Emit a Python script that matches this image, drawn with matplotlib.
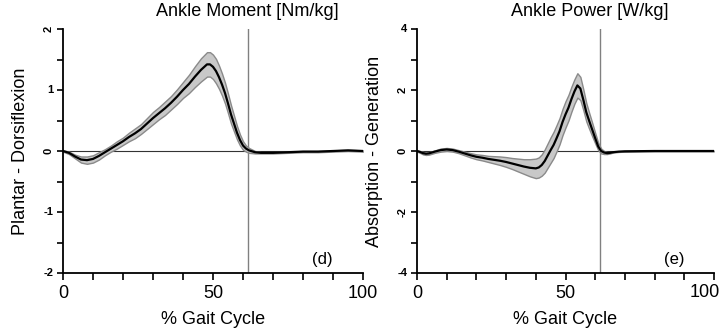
import numpy as np
import matplotlib
matplotlib.use('Agg')
import matplotlib.pyplot as plt
from matplotlib.ticker import MultipleLocator

plt.rcParams['font.family'] = ['Liberation Sans', 'DejaVu Sans']

# gait cycle points (%)
moment_x = [0, 2, 4, 6, 8, 10, 12, 14, 16, 18, 20, 22, 24, 26, 28, 30, 32, 34, 36, 38,
            40, 42, 44, 46, 48, 49, 50, 51, 52, 53, 54, 55, 56, 57, 58, 59, 60, 61, 62,
            64, 66, 70, 75, 80, 85, 90, 95, 100]
moment_mean = [0.0, -0.03, -0.09, -0.14, -0.15, -0.13, -0.08, -0.02, 0.04, 0.10, 0.16, 0.23,
               0.29, 0.36, 0.45, 0.54, 0.62, 0.70, 0.79, 0.89, 1.00, 1.10, 1.22, 1.33, 1.42,
               1.42, 1.38, 1.31, 1.21, 1.09, 0.95, 0.78, 0.60, 0.45, 0.30, 0.18, 0.09, 0.04,
               0.01, -0.02, -0.03, -0.03, -0.02, -0.01, -0.01, 0.0, 0.01, 0.0]
moment_sd = [0.01, 0.02, 0.03, 0.05, 0.06, 0.06, 0.06, 0.05, 0.05, 0.06, 0.06, 0.07, 0.08,
             0.08, 0.09, 0.10, 0.10, 0.11, 0.11, 0.12, 0.13, 0.15, 0.17, 0.19, 0.20, 0.20,
             0.20, 0.20, 0.19, 0.18, 0.17, 0.16, 0.15, 0.13, 0.11, 0.09, 0.07, 0.05, 0.04,
             0.02, 0.01, 0.01, 0.01, 0.01, 0.01, 0.01, 0.01, 0.01]

power_x = [0, 1, 2, 3, 4, 5, 6, 8, 10, 12, 14, 16, 18, 20, 22, 24, 26, 28, 30, 32, 34, 36,
           38, 40, 41, 42, 43, 44, 45, 46, 47, 48, 49, 50, 51, 52, 53, 54, 55, 56, 57, 58,
           59, 60, 61, 62, 63, 64, 65, 66, 68, 70, 80, 90, 100]
power_mean = [0.0, -0.03, -0.07, -0.09, -0.08, -0.05, -0.02, 0.03, 0.05, 0.03, -0.02, -0.08,
              -0.14, -0.19, -0.22, -0.26, -0.29, -0.32, -0.36, -0.41, -0.46, -0.51, -0.55,
              -0.57, -0.54, -0.46, -0.33, -0.15, 0.03, 0.20, 0.42, 0.65, 0.95, 1.20, 1.42,
              1.70, 1.95, 2.15, 2.05, 1.68, 1.27, 0.98, 0.70, 0.42, 0.15, 0.0, -0.05, -0.07,
              -0.06, -0.04, -0.02, -0.01, 0.0, 0.0, 0.0]
power_sd = [0.02, 0.03, 0.04, 0.04, 0.04, 0.04, 0.04, 0.05, 0.05, 0.05, 0.05, 0.06, 0.07,
            0.08, 0.09, 0.10, 0.12, 0.14, 0.16, 0.18, 0.21, 0.24, 0.28, 0.32, 0.33, 0.35,
            0.38, 0.40, 0.42, 0.43, 0.43, 0.43, 0.43, 0.43, 0.42, 0.41, 0.40, 0.40, 0.38,
            0.34, 0.30, 0.26, 0.22, 0.17, 0.12, 0.08, 0.05, 0.03, 0.02, 0.01, 0.01, 0.01,
            0.01, 0.01, 0.01]

xtick_labels = ['0', '50', '100']
toe_off = 61.5

fig = plt.figure(figsize=(7.23, 3.36), dpi=100)
ax1 = fig.add_axes([63 / 723, 63 / 336, 300 / 723, 244 / 336])
ax2 = fig.add_axes([417 / 723, 63 / 336, 297 / 723, 244 / 336])


def draw_panel(ax, x, mean, sd, ylim, ystep, ylabels, rot, title, title_x, ylabel, tag):
    x = np.array(x)
    mean = np.array(mean)
    sd = np.array(sd)
    ax.fill_between(x, mean - sd, mean + sd, facecolor='#c8c8c8', edgecolor='#8a8a8a',
                    linewidth=1.0, zorder=2)
    ax.plot(x, mean, color='black', linewidth=1.6, zorder=3)
    ax.axhline(0, color='#333333', linewidth=0.8, zorder=1)
    ax.axvline(toe_off, color='#808080', linewidth=1.0, zorder=1)

    ax.set_xlim(0, 100)
    ax.set_ylim(ylim)
    for s in ['top', 'right']:
        ax.spines[s].set_visible(False)
    for s in ['left', 'bottom']:
        ax.spines[s].set_linewidth(1.3)

    ax.set_xticks([0, 50, 100])
    ax.set_xticklabels(xtick_labels)
    ax.xaxis.set_minor_locator(MultipleLocator(10))
    ax.tick_params(axis='x', which='both', direction='out', length=5, width=1.2)
    ax.tick_params(axis='x', which='major', labelsize=13, pad=4)

    ax.yaxis.set_minor_locator(MultipleLocator(ystep))
    ax.tick_params(axis='y', which='both', direction='out', length=4, width=1.2)
    ax.tick_params(axis='y', which='major', labelsize=8, pad=3)
    ax.set_yticks(np.arange(ylim[0], ylim[1] + 0.01, ystep * 2))
    ax.set_yticklabels(ylabels, fontweight='bold')
    for lab, r in zip(ax.get_yticklabels(), rot):
        lab.set_rotation(r)
        lab.set_va('center')

    ax.set_xlabel('% Gait Cycle', fontsize=13, labelpad=6)
    ax.set_ylabel(ylabel, fontsize=13, labelpad=10)
    ax.text(title_x, ylim[1] + (ylim[1] - ylim[0]) * 0.035, title, fontsize=13,
            ha='center', va='bottom')
    ax.text(86.5, ylim[0] + (ylim[1] - ylim[0]) * 0.055, tag, fontsize=12,
            ha='center', va='center')


draw_panel(ax1, moment_x, moment_mean, moment_sd, (-2, 2), 0.5,
           ['-2', '-1', '0', '1', '2'], [0, 0, 90, 0, 90],
           'Ankle Moment [Nm/kg]', 61.5, 'Plantar - Dorsiflexion', '(d)')
draw_panel(ax2, power_x, power_mean, power_sd, (-4, 4), 1,
           ['-4', '-2', '0', '2', '4'], [0, 90, 90, 90, 0],
           'Ankle Power [W/kg]', 58, 'Absorption - Generation', '(e)')

# last "100" of the right panel sits a little left so it stays on the canvas
ax2.set_xticklabels(xtick_labels[:2] + [''])
ax2.annotate(xtick_labels[2], xy=(100, 0), xycoords=('data', 'axes fraction'),
             xytext=(-7, -7.6), textcoords='offset points', ha='center', va='top',
             fontsize=13)

fig.savefig('out.png', dpi=100)
